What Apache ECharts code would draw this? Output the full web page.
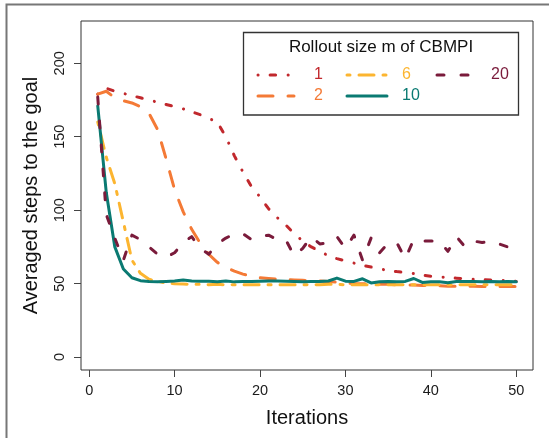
<!DOCTYPE html>
<html>
<head>
<meta charset="utf-8">
<script src="https://cdn.jsdelivr.net/npm/echarts@6/dist/echarts.min.js"></script>
<style>
  html, body { margin: 0; padding: 0; background: #fff; }
  #chart { width: 549px; height: 438px; }
</style>
</head>
<body>
<div id="chart"></div>
<script>
// iterations of the run
var iterations = [1, 2, 3, 4, 5, 6, 7, 8, 9, 10, 11, 12, 13, 14, 15, 16, 17, 18, 19, 20,
  21, 22, 23, 24, 25, 26, 27, 28, 29, 30, 31, 32, 33, 34, 35, 36, 37, 38, 39, 40,
  41, 42, 43, 44, 45, 46, 47, 48, 49, 50];

// averaged steps to the goal, one list per rollout size m
var steps_m1 = [179, 183, 181, 179.5, 178, 176.5, 175, 173.5, 172, 170.5, 169, 167, 165, 162.5, 160, 150, 137, 126, 116, 109,
  101, 95, 90, 84, 79, 75, 72, 69, 67, 65.5, 64, 62.5, 61.3, 60, 59, 58.2, 57.6, 56.8, 55.8, 55,
  54.6, 54.2, 53.7, 53.3, 53, 52.8, 52.5, 52.3, 52, 51.5];
var steps_m2 = [179, 181, 176.5, 174.5, 173, 170.5, 166, 155, 135, 114, 99, 87, 77.5, 70, 64.5, 61, 58.5, 56.5, 55, 54,
  53.5, 53, 52.8, 52.5, 52.3, 52, 51.8, 51.5, 51, 50.5, 50, 50, 49.8, 49.5, 49.5, 49.2, 49, 49, 48.8, 48.5,
  48.5, 48.3, 48.3, 48.2, 48.2, 48, 48, 48, 48, 48];
var steps_m6 = [160, 136, 118, 92, 66, 57, 53, 51.5, 50.5, 50, 49.8, 49.5, 49.5, 49.3, 49.5, 49.2, 49.3, 49.3, 49.2, 49.3,
  49.2, 49.3, 49.2, 49.2, 49.3, 49.2, 49.3, 49.5, 49.6, 49.2, 49.2, 49.3, 49.3, 49.2, 49.2, 49.3, 49.2, 49.3, 49.2, 49.3,
  49.2, 49.3, 49.2, 49.3, 49.2, 49.3, 49.2, 49.3, 49.2, 49.3];
var steps_m10 = [171, 112, 75, 60, 54, 52, 51.5, 51.3, 51.5, 51.8, 52.5, 51.8, 51.7, 51.7, 51.3, 51.8, 51.2, 51.5, 51.5, 51.7,
  51.8, 51.8, 51.7, 51.5, 51.3, 51.5, 51.5, 51.8, 53.8, 51.7, 51.5, 53.3, 50.5, 51.3, 51.5, 51.2, 51.5, 53.5, 50.8, 51.3,
  51.3, 50.6, 51.5, 51.4, 51.4, 51.3, 51.4, 51.2, 51.4, 51.2];
var steps_m20 = [177, 97, 81, 66, 83, 80, 75, 70, 68, 71, 78, 82, 74, 70, 77, 81, 84, 84, 80, 82,
  83, 80, 80, 69, 74, 82, 77, 78, 82, 74, 83, 66, 81, 71, 77.5, 78, 67, 80, 79, 79,
  79, 72, 82, 75, 79, 78, 79, 77, 75, 69];

var rolloutSizes = ['1', '2', '6', '10', '20'];
var xTicks = [0, 10, 20, 30, 40, 50];
var yTicks = [0, 50, 100, 150, 200];

var allSteps = [steps_m1, steps_m2, steps_m6, steps_m10, steps_m20];
var colors = ['#c1282d', '#f47a36', '#fcb530', '#0a7a72', '#7a1b3b'];
var dashes = [[0.1, 12, 5.5, 12.5], [15, 15], [3, 9, 15, 9], null, [7, 17]];
// legend slots: [column, row], filled column by column like R's legend(ncol=3)
var legendSlots = [[0, 0], [0, 1], [1, 0], [1, 1], [2, 0]];

var chart = echarts.init(document.getElementById('chart'));

var series = allSteps.map(function (vals, k) {
  return {
    name: rolloutSizes[k],
    type: 'line',
    data: iterations.map(function (it, i) { return [it, vals[i]]; }),
    symbol: 'none',
    z: 2 + k,
    lineStyle: {
      color: colors[k],
      width: 3,
      type: dashes[k] || 'solid',
      cap: 'round',
      join: 'round'
    }
  };
});

var legendGraphics = [
  { type: 'rect', shape: { x: 243.5, y: 32.5, width: 275, height: 82.5 },
    style: { fill: '#fff', stroke: '#333', lineWidth: 1.3 }, z: 50 },
  { type: 'text', x: 381, y: 47.5, z: 51,
    style: { text: 'Rollout size m of CBMPI', fontFamily: 'Liberation Sans', fontSize: 17,
      fill: '#111', align: 'center', verticalAlign: 'middle' } }
];
var colLineX = [258, 347, 437];
var colLineW = [36, 40, 34];
var colTextX = [314, 402, 491];
var rowY = [75, 96];
rolloutSizes.forEach(function (nm, k) {
  var c = legendSlots[k][0], r = legendSlots[k][1];
  legendGraphics.push({
    type: 'line', z: 51,
    shape: { x1: colLineX[c], y1: rowY[r], x2: colLineX[c] + colLineW[c], y2: rowY[r] },
    style: { stroke: colors[k], lineWidth: 3, lineDash: dashes[k] || null, lineCap: 'round' }
  });
  legendGraphics.push({
    type: 'text', x: colTextX[c], y: rowY[r], z: 51,
    style: { text: nm, fontFamily: 'Liberation Sans', fontSize: 16, fill: colors[k],
      align: 'left', verticalAlign: 'middle' }
  });
});

var option = {
  animation: false,
  backgroundColor: '#fff',
  textStyle: { fontFamily: 'Liberation Sans' },
  grid: {
    left: 81, top: 21, right: 16, bottom: 68,
    show: true, borderColor: '#333', borderWidth: 1, backgroundColor: 'transparent'
  },
  xAxis: {
    type: 'value',
    min: -0.96,
    max: 51.96,
    axisLine: { show: false, onZero: false },
    splitLine: { show: false },
    axisTick: { show: true, length: 7, customValues: xTicks, lineStyle: { color: '#444' } },
    axisLabel: { customValues: xTicks, fontSize: 14.5, color: '#1a1a1a', margin: 13 },
    name: 'Iterations',
    nameLocation: 'middle',
    nameGap: 38,
    nameTextStyle: { fontSize: 20, color: '#111' }
  },
  yAxis: {
    type: 'value',
    min: -8.8,
    max: 228.8,
    axisLine: { show: false, onZero: false },
    splitLine: { show: false },
    axisTick: { show: true, length: 7, customValues: yTicks, lineStyle: { color: '#444' } },
    axisLabel: { customValues: yTicks, fontSize: 14.5, color: '#1a1a1a', margin: 14, rotate: 90 },
    name: 'Averaged steps to the goal',
    nameLocation: 'middle',
    nameGap: 40,
    nameTextStyle: { fontSize: 20, color: '#111' }
  },
  graphic: [
    { type: 'rect', shape: { x: 6.5, y: 4.5, width: 700, height: 700 },
      style: { fill: 'none', stroke: '#777', lineWidth: 2 }, z: 60 }
  ].concat(legendGraphics),
  series: series
};

chart.setOption(option);
</script>
</body>
</html>
